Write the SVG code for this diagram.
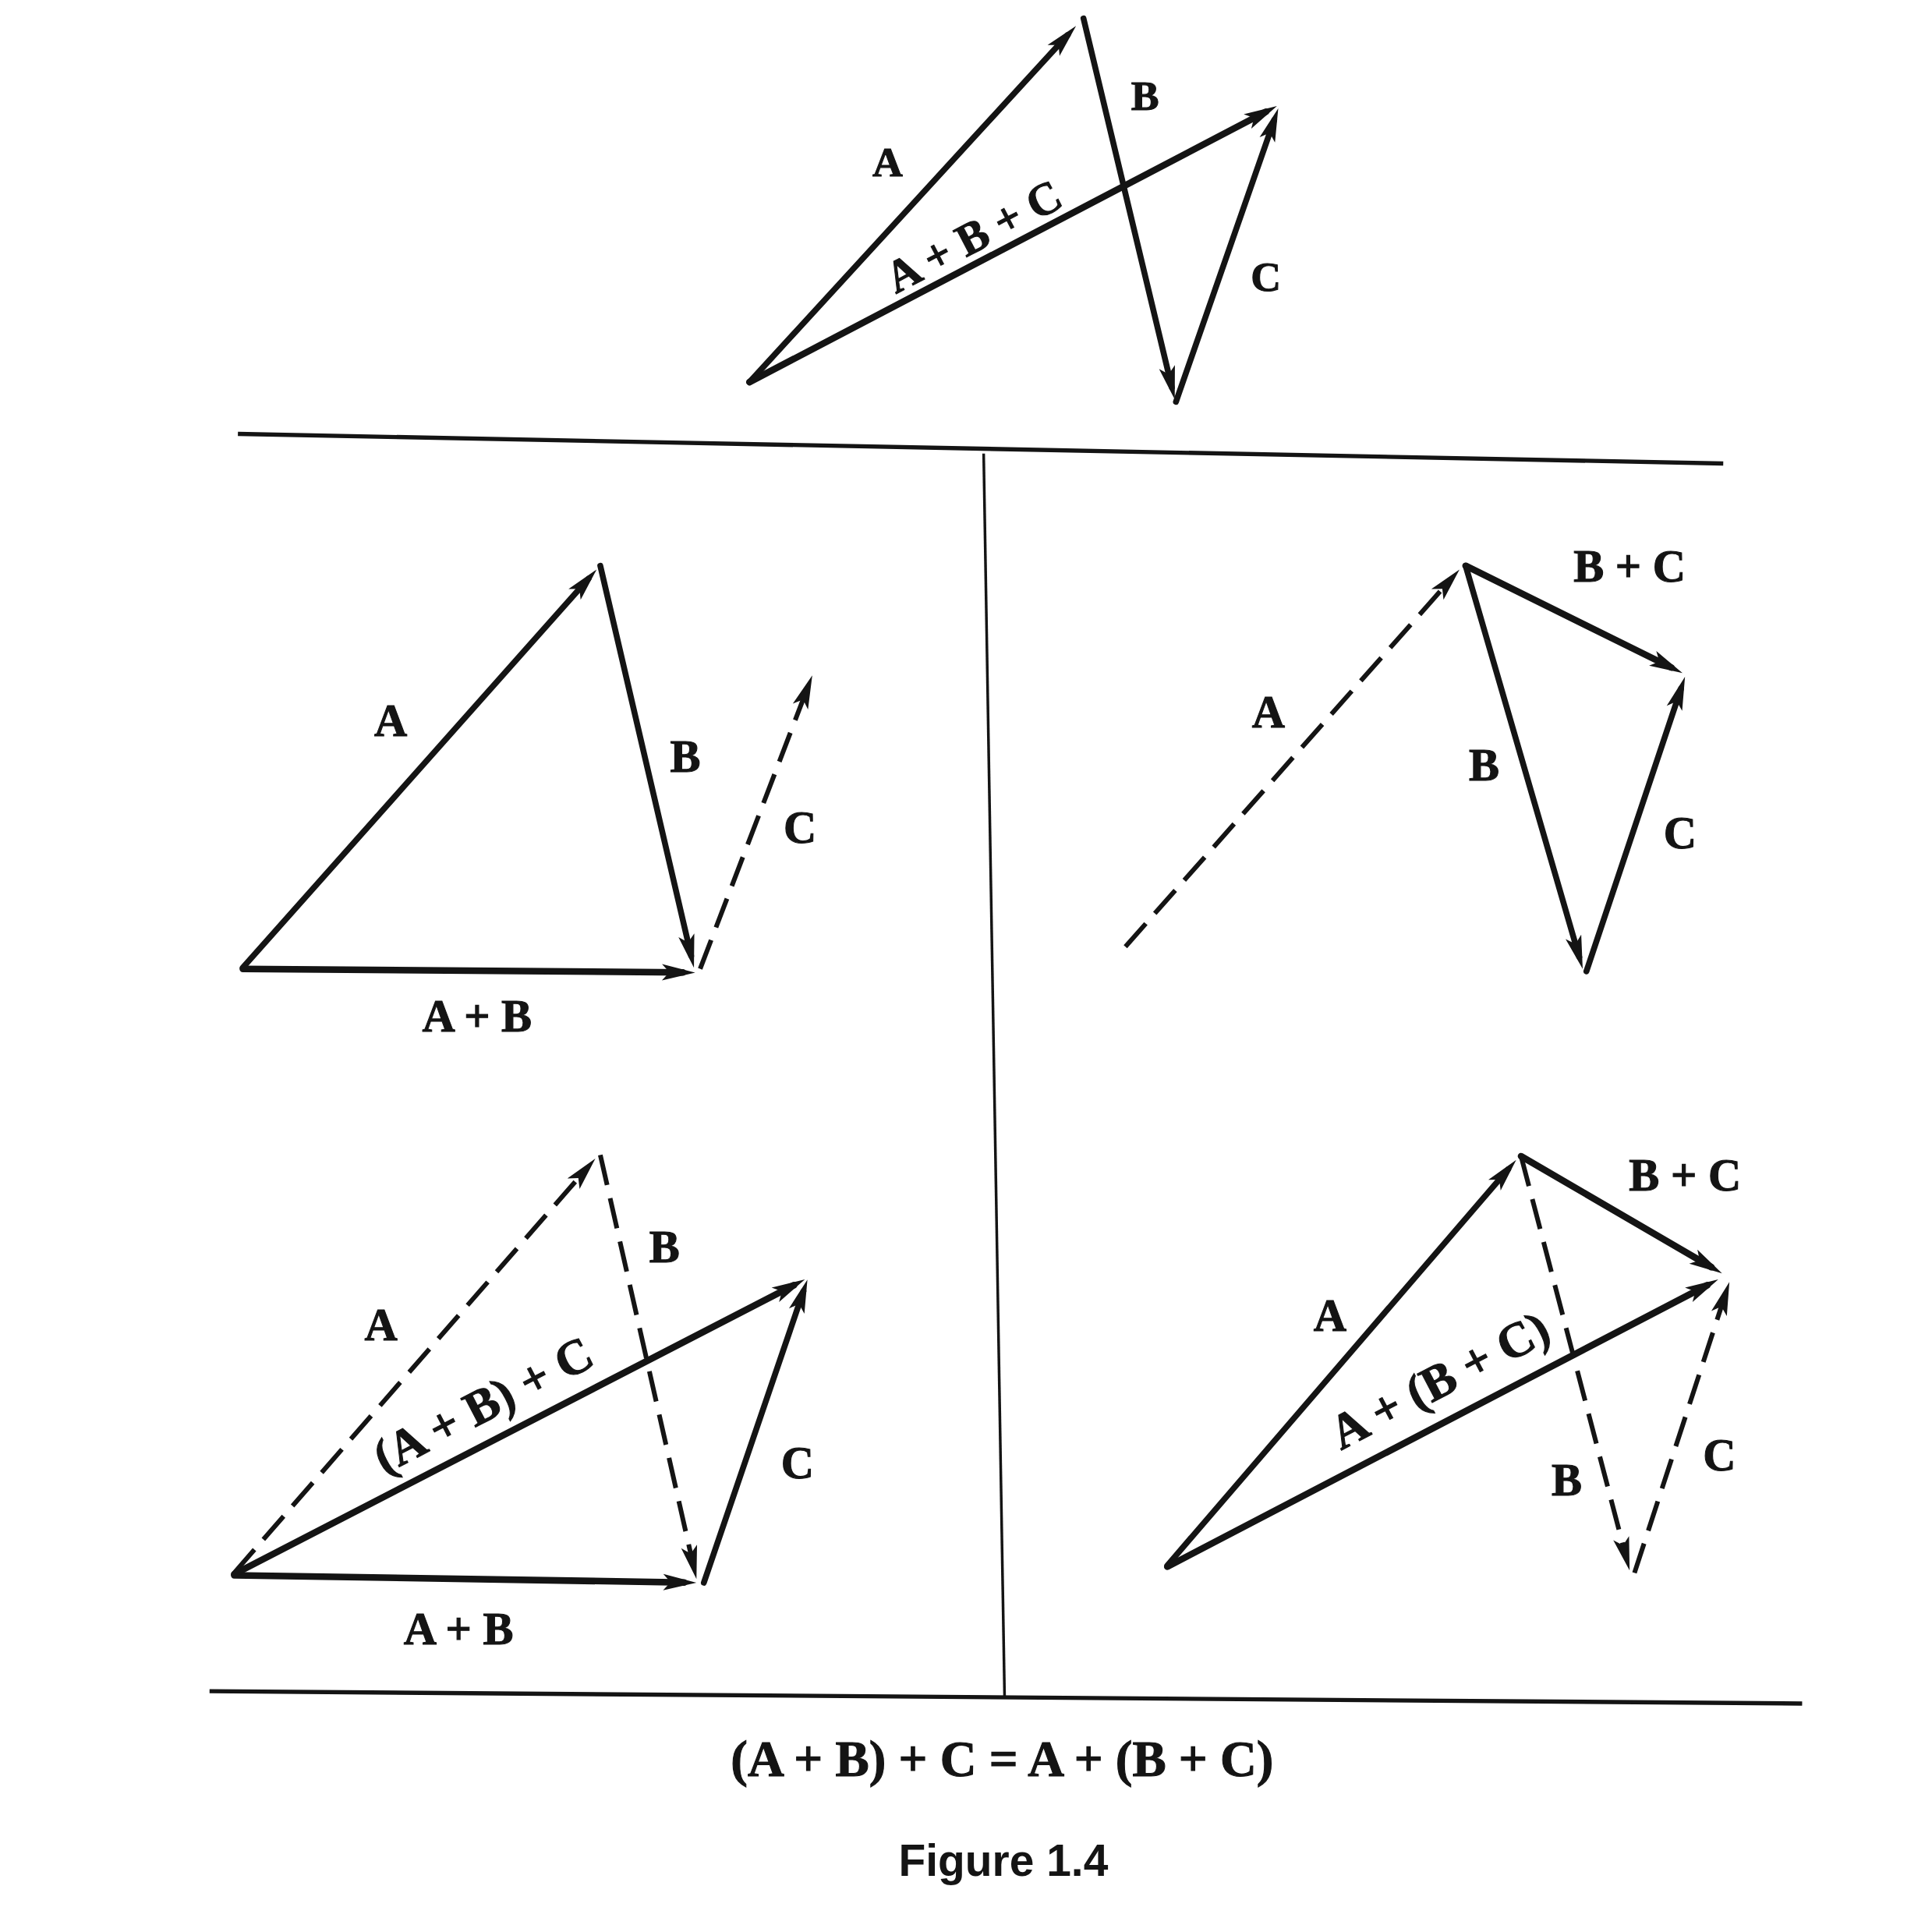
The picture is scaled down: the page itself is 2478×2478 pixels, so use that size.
<svg xmlns="http://www.w3.org/2000/svg" width="2478" height="2478" viewBox="0 0 2478 2478">
<style>
.v{fill:none;stroke:#141414;stroke-width:4.8;stroke-linecap:round;marker-end:url(#ah)}
.r{stroke-width:5.4}
.d{fill:none;stroke:#141414;stroke-width:3.8;stroke-dasharray:25 11;marker-end:url(#ah)}
.rule{fill:none;stroke:#141414;stroke-width:3.4}
.thin{stroke-width:2.2}
.lbl{font-family:"Liberation Serif","Times New Roman",serif;font-weight:bold;font-size:37px;fill:#141414;stroke:#141414;stroke-width:0.7;text-anchor:middle}
.sm{font-size:34px}
.cap{font-family:"Liberation Sans",Arial,sans-serif;font-weight:bold;font-size:36px;fill:#141414;text-anchor:middle}
</style>
<defs>
<marker id="ah" markerUnits="userSpaceOnUse" viewBox="-20 -10 40 20" markerWidth="40" markerHeight="20" refX="0" refY="0" orient="auto" overflow="visible">
<path d="M10,0 L-17,-6.6 L-11,0 L-17,6.6 Z" fill="#141414"/>
</marker>
</defs>
<rect width="2478" height="2478" fill="#ffffff"/>
<g transform="scale(1.581)">
<g id="rules">
<line class="rule" x1="193" y1="352" x2="1398" y2="376"/>
<line class="rule thin" x1="798" y1="368" x2="815" y2="1378"/>
<line class="rule" x1="170" y1="1372" x2="1462" y2="1382"/>
</g>
<g id="connectors">
<g id="vec-top">
<path class="v" d="M608,310 L866.2,28.4"/>
<path class="v" d="M879,15 L950.7,314.3"/>
<path class="v" d="M954,326 L1033.7,97.4"/>
<path class="v r" d="M608,310 L1027.1,90.6"/>
</g>
<g id="vec-left-mid">
<path class="v" d="M197,785 L477.4,469.5"/>
<path class="v" d="M487,459 L560.7,775.3"/>
<path class="v r" d="M197,786 L554,788.9"/>
<path class="d" d="M568,786 L655.4,557.3"/>
</g>
<g id="vec-right-mid">
<path class="d" d="M913,768 L1177.4,469.5"/>
<path class="v" d="M1189,459 L1281.2,776.4"/>
<path class="v" d="M1287,788 L1363.8,558.5"/>
<path class="v r" d="M1189,459 L1356,541.6"/>
</g>
<g id="vec-left-bot">
<path class="d" d="M190,1276 L476.4,947.5"/>
<path class="d" d="M487,937 L562.8,1271.2"/>
<path class="v r" d="M190,1278 L555,1283.8"/>
<path class="v" d="M571,1284 L651.8,1047.5"/>
<path class="v r" d="M190,1277 L644.1,1042.6"/>
</g>
<g id="vec-right-bot">
<path class="v" d="M947,1270 L1223.5,948.6"/>
<path class="d" d="M1234,938 L1319.5,1264.3"/>
<path class="v r" d="M1234,938 L1388.4,1028"/>
<path class="d" d="M1326,1276 L1399.9,1049.5"/>
<path class="v r" d="M947,1271 L1385.1,1042.6"/>
</g>
</g>
<g id="labels-top">
<text class="lbl sm" x="720" y="143">A</text>
<text class="lbl sm" x="929" y="89">B</text>
<text class="lbl sm" x="1027" y="236">C</text>
<g id="lbl-top-sum" transform="translate(790,192) rotate(-27.6)"><text class="lbl" x="0" y="12">A + B + C</text></g>
</g>
<g id="labels-left-mid">
<text class="lbl" x="317" y="597">A</text>
<text class="lbl" x="556" y="626">B</text>
<text class="lbl" x="649" y="684">C</text>
<text class="lbl" x="387" y="837">A + B</text>
</g>
<g id="labels-right-mid">
<text class="lbl" x="1029" y="590">A</text>
<text class="lbl" x="1204" y="633">B</text>
<text class="lbl" x="1363" y="688">C</text>
<text class="lbl" x="1322" y="472">B + C</text>
</g>
<g id="labels-left-bot">
<text class="lbl" x="309" y="1087">A</text>
<text class="lbl" x="539" y="1024">B</text>
<text class="lbl" x="647" y="1199">C</text>
<text class="lbl" x="372" y="1334">A + B</text>
<g id="lbl-left-sum" transform="translate(392,1140) rotate(-27.5)"><text class="lbl" x="0" y="13" style="font-size:40px">(A + B) + C</text></g>
</g>
<g id="labels-right-bot">
<text class="lbl" x="1079" y="1080">A</text>
<text class="lbl" x="1271" y="1213">B</text>
<text class="lbl" x="1395" y="1193">C</text>
<text class="lbl" x="1367" y="966">B + C</text>
<g id="lbl-right-sum" transform="translate(1168,1120) rotate(-27.7)"><text class="lbl" x="0" y="13" style="font-size:40px">A + (B + C)</text></g>
</g>
<g id="caption">
<text class="lbl" x="813" y="1441" style="font-size:41px">(A + B) + C = A + (B + C)</text>
<text class="cap" x="814" y="1522">Figure 1.4</text>
</g>
</g>
</svg>
